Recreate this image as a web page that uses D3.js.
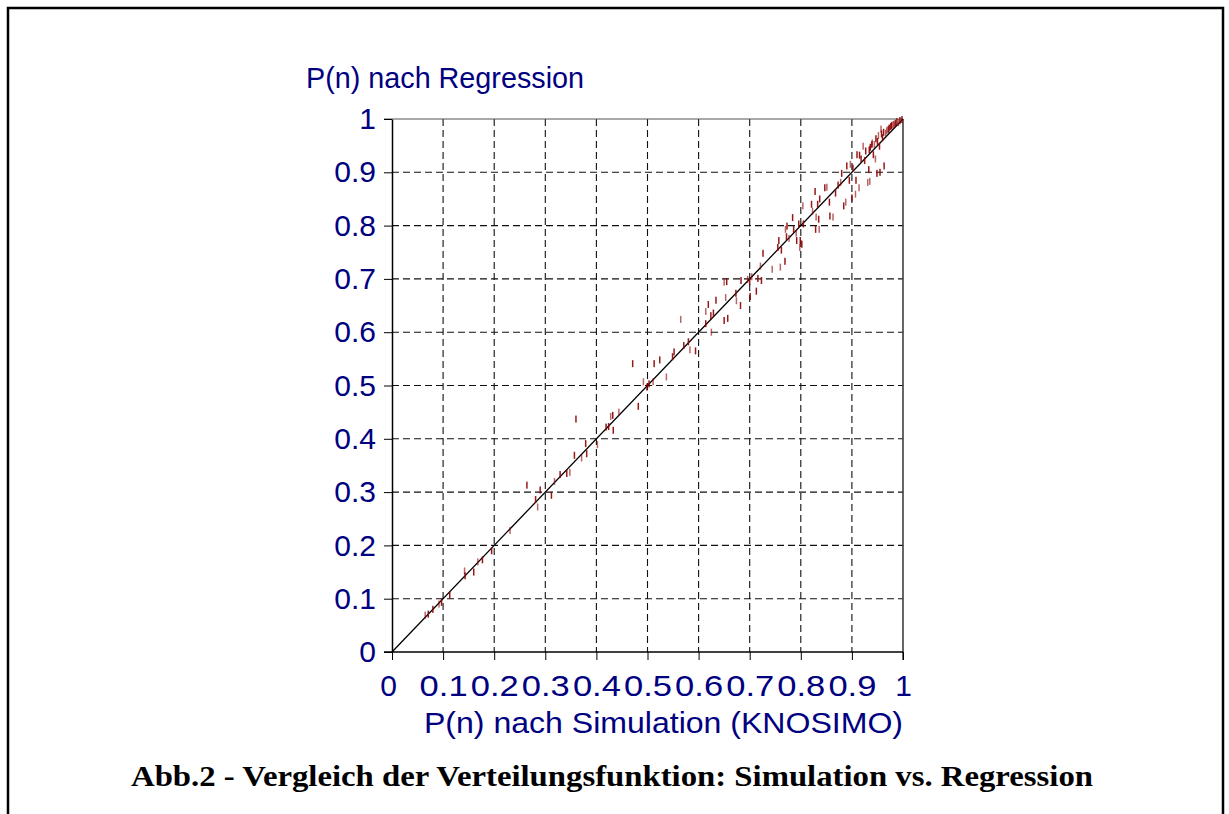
<!DOCTYPE html>
<html>
<head>
<meta charset="utf-8">
<script src="https://cdn.jsdelivr.net/npm/d3@7"></script>
<style>
  body { margin: 0; background: #fff; }
  svg { display: block; }
</style>
</head>
<body>
<div id="chart"></div>
<script>
var w = 1229
var h = 814

// P(n) nach Simulation (KNOSIMO)
var simX = [0.065, 0.071, 0.080, 0.092, 0.097, 0.113, 0.142, 0.143, 0.160, 0.168, 0.177, 0.195,
  0.231, 0.264, 0.281, 0.285, 0.290, 0.312, 0.318, 0.329, 0.342, 0.348, 0.357, 0.360, 0.371,
  0.379, 0.381, 0.402, 0.419, 0.424, 0.428, 0.432, 0.433, 0.444, 0.471, 0.482, 0.492, 0.499,
  0.503, 0.511, 0.513, 0.524, 0.537, 0.549, 0.552, 0.565, 0.571, 0.580, 0.583, 0.594, 0.614,
  0.614, 0.619, 0.624, 0.625, 0.629, 0.634, 0.650, 0.655, 0.650, 0.653, 0.657, 0.673, 0.674,
  0.682, 0.683, 0.696, 0.700, 0.701, 0.704, 0.713, 0.716, 0.721, 0.723, 0.726, 0.744, 0.755,
  0.757, 0.760, 0.762, 0.769, 0.770, 0.773, 0.772, 0.777, 0.784, 0.786, 0.791, 0.792, 0.796,
  0.798, 0.799, 0.802, 0.804, 0.805, 0.821, 0.823, 0.828, 0.829, 0.830, 0.833, 0.835, 0.836,
  0.837, 0.847, 0.851, 0.856, 0.857, 0.863, 0.868, 0.873, 0.878, 0.880, 0.884, 0.888, 0.890,
  0.895, 0.897, 0.900, 0.902, 0.907, 0.908, 0.910, 0.914, 0.915, 0.918, 0.922, 0.925, 0.927,
  0.931, 0.933, 0.934, 0.935, 0.939, 0.942, 0.946, 0.947, 0.949, 0.952, 0.954, 0.955, 0.957,
  0.960, 0.963, 0.966, 0.971, 0.976, 0.981, 0.985, 0.988, 0.991, 0.994, 0.998,
  0.940, 0.950, 0.936, 0.944, 0.958, 0.962, 0.968, 0.973, 0.978, 0.983]

// P(n) nach Regression
var regY = [0.069, 0.071, 0.080, 0.090, 0.093, 0.107, 0.152, 0.143, 0.150, 0.169, 0.173, 0.190,
  0.228, 0.313, 0.286, 0.272, 0.304, 0.294, 0.320, 0.333, 0.335, 0.337, 0.369, 0.437, 0.364,
  0.391, 0.372, 0.389, 0.422, 0.423, 0.442, 0.444, 0.416, 0.450, 0.541, 0.461, 0.507, 0.497,
  0.503, 0.507, 0.541, 0.548, 0.516, 0.554, 0.563, 0.624, 0.575, 0.582, 0.567, 0.565, 0.616,
  0.639, 0.652, 0.631, 0.600, 0.636, 0.660, 0.694, 0.695, 0.622, 0.665, 0.626, 0.673, 0.659,
  0.650, 0.697, 0.699, 0.695, 0.667, 0.704, 0.677, 0.701, 0.724, 0.697, 0.748, 0.718, 0.759,
  0.772, 0.722, 0.754, 0.733, 0.793, 0.799, 0.779, 0.776, 0.815, 0.793, 0.786, 0.772, 0.803,
  0.759, 0.772, 0.765, 0.837, 0.803, 0.840, 0.827, 0.864, 0.793, 0.816, 0.840, 0.812, 0.793,
  0.850, 0.871, 0.872, 0.844, 0.818, 0.816, 0.861, 0.876, 0.881, 0.898, 0.837, 0.844, 0.912,
  0.885, 0.915, 0.852, 0.908, 0.859, 0.885, 0.933, 0.871, 0.932, 0.925, 0.949, 0.922, 0.940,
  0.881, 0.905, 0.942, 0.883, 0.952, 0.933, 0.925, 0.963, 0.898, 0.969, 0.949, 0.900, 0.981,
  0.965, 0.912, 0.973, 0.980, 0.986, 0.990, 0.992, 0.995, 0.993, 0.997, 0.999,
  0.955, 0.958, 0.947, 0.952, 0.972, 0.975, 0.978, 0.983, 0.988, 0.989]

var ticks = [0, 0.1, 0.2, 0.3, 0.4, 0.5, 0.6, 0.7, 0.8, 0.9, 1]
var tickLabels = ["0", "0.1", "0.2", "0.3", "0.4", "0.5", "0.6", "0.7", "0.8", "0.9", "1"]

var titleY = "P(n) nach Regression"
var titleX = "P(n) nach Simulation (KNOSIMO)"
var caption = "Abb.2 - Vergleich der Verteilungsfunktion: Simulation vs. Regression"

var navy = "#000080"
var font = "Arial, 'Liberation Sans', sans-serif"

var xScale = d3.scaleLinear().domain([0, 1]).range([392, 903])
var yScale = d3.scaleLinear().domain([0, 1]).range([652, 119])

var svg = d3.select("#chart").append("svg")
  .attr("width", w)
  .attr("height", h)

// page frame
svg.append("rect")
  .attr("x", 8).attr("y", 8)
  .attr("width", 1215).attr("height", 900)
  .attr("fill", "none")
  .attr("stroke", "#000")
  .attr("stroke-width", 2.5)

// grid
var grid = svg.append("g").attr("class", "grid")
grid.selectAll("line.gx").data(ticks.slice(1, -1)).enter()
  .append("line")
  .attr("class", "gx")
  .attr("x1", d => xScale(d)).attr("x2", d => xScale(d))
  .attr("y1", yScale(1)).attr("y2", yScale(0))
grid.selectAll("line.gy").data(ticks.slice(1, -1)).enter()
  .append("line")
  .attr("class", "gy")
  .attr("x1", xScale(0)).attr("x2", xScale(1))
  .attr("y1", d => yScale(d)).attr("y2", d => yScale(d))
grid.selectAll("line")
  .attr("stroke", "#111")
  .attr("stroke-width", 1.1)
  .attr("stroke-dasharray", "7,4")

// top and right frame of plot
svg.append("line")
  .attr("x1", xScale(0) - 8).attr("x2", xScale(1))
  .attr("y1", yScale(1)).attr("y2", yScale(1))
  .attr("stroke", "#555").attr("stroke-width", 1.2)
svg.append("line")
  .attr("x1", xScale(1)).attr("x2", xScale(1))
  .attr("y1", yScale(1)).attr("y2", yScale(0) + 8)
  .attr("stroke", "#333").attr("stroke-width", 1.5)

// axes
var xAxis = d3.axisBottom(xScale)
  .tickValues(ticks)
  .tickFormat((d, i) => tickLabels[i])
  .tickSize(8)
  .tickSizeOuter(0)
  .tickPadding(13)
var yAxis = d3.axisLeft(yScale)
  .tickValues(ticks)
  .tickFormat((d, i) => tickLabels[i])
  .tickSize(8)
  .tickSizeOuter(0)
  .tickPadding(8)

var gx = svg.append("g")
  .attr("transform", "translate(0," + yScale(0) + ")")
  .call(xAxis)
var gy = svg.append("g")
  .attr("transform", "translate(" + xScale(0) + ",0)")
  .call(yAxis)

gx.select(".domain").attr("d", "M" + (xScale(0) - 8) + ",0H" + xScale(1)).attr("stroke-width", 1.5)
gy.select(".domain").attr("stroke-width", 1.5)
svg.selectAll(".tick line").attr("stroke", "#000")
svg.selectAll(".tick text")
  .attr("fill", navy)
  .style("font-family", font)
  .style("font-size", "30px")
gx.selectAll(".tick text")
  .attr("dy", "0.75em")
  .filter(d => d > 0 && d < 1)
  .attr("textLength", 48)
  .attr("lengthAdjust", "spacingAndGlyphs")
gx.selectAll(".tick text").filter(d => d == 0).attr("dx", -4)

// regression line y = x
svg.append("line")
  .attr("x1", xScale(0)).attr("y1", yScale(0))
  .attr("x2", xScale(1)).attr("y2", yScale(1))
  .attr("stroke", "#000")
  .attr("stroke-width", 1.3)

// data marks
svg.append("g").selectAll("rect")
  .data(simX.map((d, i) => [d, regY[i]]))
  .enter()
  .append("rect")
  .attr("x", d => xScale(d[0]) - 0.75)
  .attr("y", d => yScale(d[1]) - 3.5)
  .attr("width", 1.5)
  .attr("height", 7)
  .attr("fill", "#8b0000")
  .attr("opacity", (d, i) => i % 3 == 0 ? 0.6 : 0.9)

// titles
svg.append("text")
  .attr("x", 306).attr("y", 88)
  .attr("fill", navy)
  .style("font-family", font)
  .style("font-size", "30px")
  .attr("textLength", 278)
  .attr("lengthAdjust", "spacingAndGlyphs")
  .text(titleY)
svg.append("text")
  .attr("x", 424).attr("y", 733)
  .attr("fill", navy)
  .style("font-family", font)
  .style("font-size", "30px")
  .attr("textLength", 479)
  .attr("lengthAdjust", "spacingAndGlyphs")
  .text(titleX)

svg.append("text")
  .attr("x", 131).attr("y", 786)
  .attr("fill", "#000")
  .style("font-family", "'Times New Roman', 'Liberation Serif', serif")
  .style("font-weight", "bold")
  .style("font-size", "30px")
  .attr("textLength", 962)
  .attr("lengthAdjust", "spacingAndGlyphs")
  .text(caption)
</script>
</body>
</html>
